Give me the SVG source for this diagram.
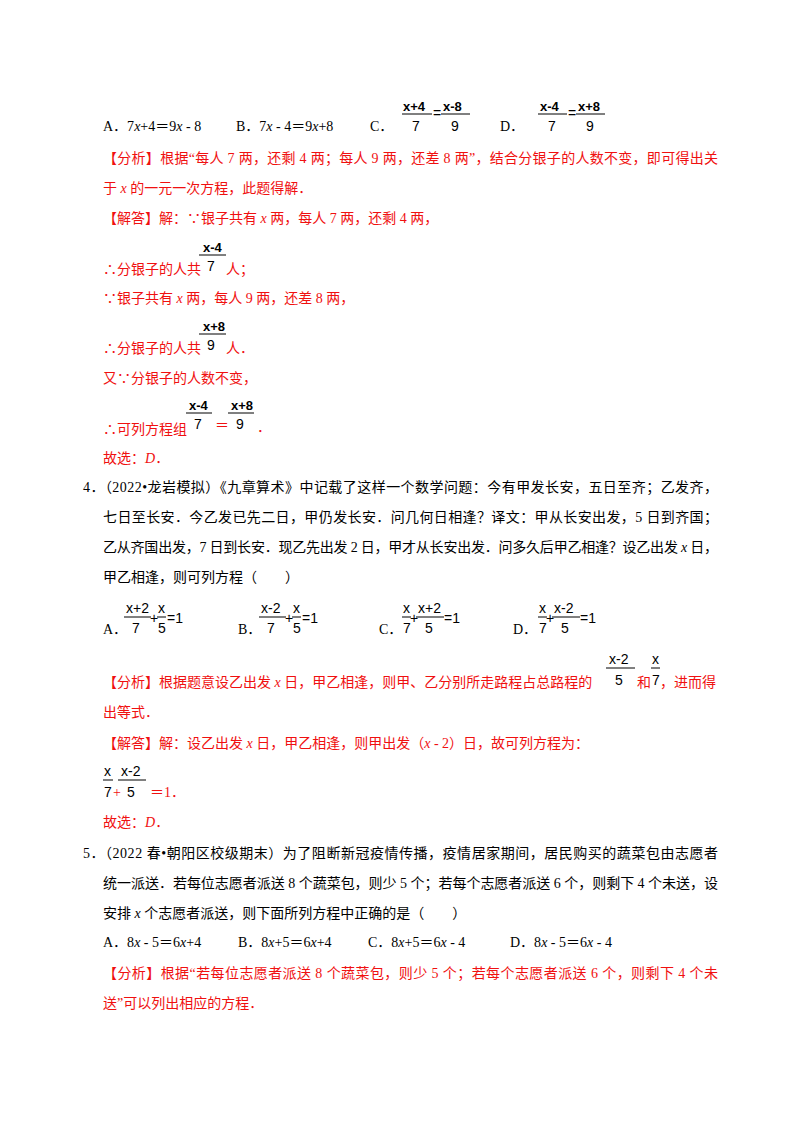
<svg xmlns="http://www.w3.org/2000/svg" width="800" height="1132" viewBox="0 0 800 1132">
<style>
text{font-family:"Liberation Serif","Noto Sans CJK SC",serif;font-size:14px;fill:#000}
.r{fill:#f01010}
.f{font-family:"Liberation Sans","DejaVu Sans",sans-serif;font-size:14px}
.fb{font-family:"Liberation Sans","DejaVu Sans",sans-serif;font-size:13px;font-weight:bold}
line{stroke:#000;stroke-width:1}
i{font-style:italic}
</style>
<rect width="800" height="1132" fill="#fff"/>
<!-- Q3 options -->
<text x="103" y="131">A．7<tspan font-style="italic">x</tspan>+4＝9<tspan font-style="italic">x</tspan> - 8</text>
<text x="236" y="131">B．7<tspan font-style="italic">x</tspan> - 4＝9<tspan font-style="italic">x</tspan>+8</text>
<text x="370" y="131">C．</text>
<text class="fb" x="403" y="111">x+4</text><line x1="402" y1="114" x2="432" y2="114"/><text class="f" x="412" y="131">7</text>
<text class="f" x="433" y="118" font-size="10">=</text>
<text class="fb" x="443" y="111">x-8</text><line x1="441" y1="114" x2="470" y2="114"/><text class="f" x="451" y="131">9</text>
<text x="500" y="131">D．</text>
<text class="fb" x="540" y="111">x-4</text><line x1="538" y1="114" x2="567" y2="114"/><text class="f" x="548" y="131">7</text>
<text class="f" x="568" y="118" font-size="10">=</text>
<text class="fb" x="578" y="111">x+8</text><line x1="576" y1="114" x2="605" y2="114"/><text class="f" x="586" y="131">9</text>
<text class="r" x="103" y="163" textLength="615" lengthAdjust="spacing">【分析】根据“每人 7 两，还剩 4 两；每人 9 两，还差 8 两”，结合分银子的人数不变，即可得出关</text>
<text class="r" x="103" y="193">于 <tspan font-style="italic">x</tspan> 的一元一次方程，此题得解．</text>
<text class="r" x="103" y="223">【解答】解：∵银子共有 <tspan font-style="italic">x</tspan> 两，每人 7 两，还剩 4 两，</text>
<text class="fb" x="203" y="252">x-4</text><line x1="199" y1="255" x2="226" y2="255"/><text class="f" x="207" y="271">7</text>
<text class="r" x="103" y="274">∴分银子的人共</text><text class="r" x="226" y="274">人；</text>
<text class="r" x="103" y="303">∵银子共有 <tspan font-style="italic">x</tspan> 两，每人 9 两，还差 8 两，</text>
<text class="fb" x="203" y="331">x+8</text><line x1="199" y1="334" x2="226" y2="334"/><text class="f" x="207" y="350">9</text>
<text class="r" x="103" y="353">∴分银子的人共</text><text class="r" x="226" y="353">人．</text>
<text class="r" x="103" y="383">又∵分银子的人数不变，</text>
<text class="fb" x="189" y="410">x-4</text><line x1="186" y1="413" x2="212" y2="413"/><text class="f" x="194" y="429">7</text>
<text class="r" x="215" y="430">＝</text>
<text class="fb" x="231" y="410">x+8</text><line x1="228" y1="413" x2="254" y2="413"/><text class="f" x="236" y="429">9</text>
<text class="r" x="103" y="434">∴可列方程组</text><text class="r" x="257" y="432">．</text>
<text class="r" x="103" y="463">故选：<tspan font-style="italic">D</tspan>．</text>
<!-- Q4 -->
<text x="83" y="492" textLength="635" lengthAdjust="spacing">4．（2022•龙岩模拟）《九章算术》中记载了这样一个数学问题：今有甲发长安，五日至齐；乙发齐，</text>
<text x="103" y="522" textLength="615" lengthAdjust="spacing">七日至长安．今乙发已先二日，甲仍发长安．问几何日相逢？译文：甲从长安出发，5 日到齐国；</text>
<text x="103" y="552" textLength="615" lengthAdjust="spacing">乙从齐国出发，7 日到长安．现乙先出发 2 日，甲才从长安出发．问多久后甲乙相逢？设乙出发 <tspan font-style="italic">x</tspan> 日，</text>
<text x="103" y="582">甲乙相逢，则可列方程（　　）</text>
<text x="103" y="634">A．</text>
<text class="f" x="126" y="613">x+2</text><line x1="124" y1="617" x2="151" y2="617"/><text class="f" x="132" y="633">7</text>
<text class="f" x="150" y="623">+</text>
<text class="f" x="158" y="613">x</text><line x1="157" y1="617" x2="166" y2="617"/><text class="f" x="158" y="633">5</text>
<text class="f" x="167" y="623">=1</text>
<text x="238" y="634">B．</text>
<text class="f" x="261" y="613">x-2</text><line x1="259" y1="617" x2="286" y2="617"/><text class="f" x="267" y="633">7</text>
<text class="f" x="285" y="623">+</text>
<text class="f" x="293" y="613">x</text><line x1="292" y1="617" x2="301" y2="617"/><text class="f" x="293" y="633">5</text>
<text class="f" x="302" y="623">=1</text>
<text x="379" y="634">C．</text>
<text class="f" x="403" y="613">x</text><line x1="402" y1="617" x2="411" y2="617"/><text class="f" x="403" y="633">7</text>
<text class="f" x="410" y="623">+</text>
<text class="f" x="418" y="613">x+2</text><line x1="416" y1="617" x2="444" y2="617"/><text class="f" x="425" y="633">5</text>
<text class="f" x="444" y="623">=1</text>
<text x="513" y="634">D．</text>
<text class="f" x="539" y="613">x</text><line x1="538" y1="617" x2="547" y2="617"/><text class="f" x="539" y="633">7</text>
<text class="f" x="546" y="623">+</text>
<text class="f" x="554" y="613">x-2</text><line x1="552" y1="617" x2="580" y2="617"/><text class="f" x="561" y="633">5</text>
<text class="f" x="580" y="623">=1</text>
<text class="r" x="103" y="687">【分析】根据题意设乙出发 <tspan font-style="italic">x</tspan> 日，甲乙相逢，则甲、乙分别所走路程占总路程的</text>
<text class="f" x="609" y="664">x-2</text><line x1="606" y1="668" x2="635" y2="668"/><text class="f" x="615" y="685">5</text>
<text class="r" x="637" y="687">和</text>
<text class="f" x="652" y="664">x</text><line x1="651" y1="668" x2="660" y2="668"/><text class="f" x="652" y="685">7</text>
<text class="r" x="660" y="687">，进而得</text>
<text class="r" x="103" y="717">出等式．</text>
<text class="r" x="103" y="748">【解答】解：设乙出发 <tspan font-style="italic">x</tspan> 日，甲乙相逢，则甲出发（<tspan font-style="italic">x</tspan> - 2）日，故可列方程为：</text>
<text class="f" x="104" y="776">x</text><line x1="103" y1="780" x2="113" y2="780"/><text class="f" x="104" y="797">7</text>
<text class="r" x="113" y="797" font-size="12">+</text>
<text class="f" x="121" y="776">x-2</text><line x1="118" y1="780" x2="146" y2="780"/><text class="f" x="127" y="797">5</text>
<text class="r" x="150" y="797">＝1．</text>
<text class="r" x="103" y="827">故选：<tspan font-style="italic">D</tspan>．</text>
<!-- Q5 -->
<text x="83" y="858" textLength="635" lengthAdjust="spacing">5．（2022 春•朝阳区校级期末）为了阻断新冠疫情传播，疫情居家期间，居民购买的蔬菜包由志愿者</text>
<text x="103" y="888" textLength="615" lengthAdjust="spacing">统一派送．若每位志愿者派送 8 个蔬菜包，则少 5 个；若每个志愿者派送 6 个，则剩下 4 个未送，设</text>
<text x="103" y="918">安排 <tspan font-style="italic">x</tspan> 个志愿者派送，则下面所列方程中正确的是（　　）</text>
<text x="103" y="947">A．8<tspan font-style="italic">x</tspan> - 5＝6<tspan font-style="italic">x</tspan>+4</text>
<text x="238" y="947">B．8<tspan font-style="italic">x</tspan>+5＝6<tspan font-style="italic">x</tspan>+4</text>
<text x="368" y="947">C．8<tspan font-style="italic">x</tspan>+5＝6<tspan font-style="italic">x</tspan> - 4</text>
<text x="510" y="947">D．8<tspan font-style="italic">x</tspan> - 5＝6<tspan font-style="italic">x</tspan> - 4</text>
<text class="r" x="103" y="978" textLength="615" lengthAdjust="spacing">【分析】根据“若每位志愿者派送 8 个蔬菜包，则少 5 个；若每个志愿者派送 6 个，则剩下 4 个未</text>
<text class="r" x="103" y="1008">送”可以列出相应的方程．</text>
</svg>
